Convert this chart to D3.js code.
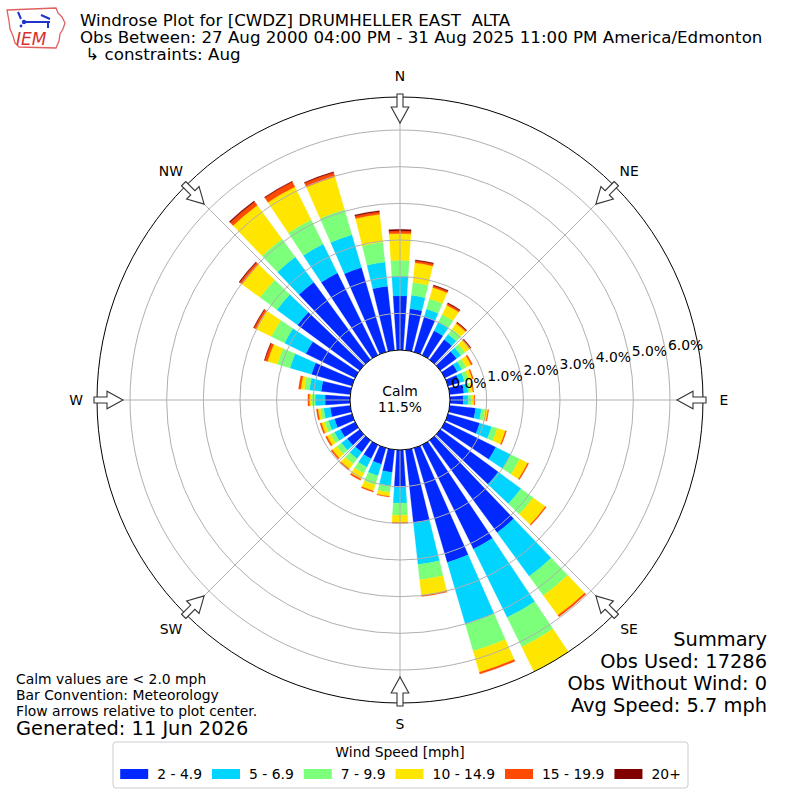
<!DOCTYPE html>
<html><head><meta charset="utf-8">
<script src="https://cdn.jsdelivr.net/npm/d3@7"></script>
<style>
body{margin:0;background:#fff}
svg{display:block}
text{font-family:"DejaVu Sans",sans-serif;fill:#000}
</style>
</head><body>
<svg id="c" width="800" height="800"></svg>
<script>
// ---------------- DATA ----------------
const directions = [0,10,20,30,40,50,60,70,80,90,100,110,120,130,140,150,160,170,
                    180,190,200,210,220,230,240,250,260,270,280,290,300,310,320,330,340,350];
const speedBins = ["2 - 4.9","5 - 6.9","7 - 9.9","10 - 14.9","15 - 19.9","20+"];
// percent of observations per direction, per speed bin
const s2to5   = [1.48,1.14,1.00,0.74,0.68,0.55,0.38,0.32,0.39,0.36,0.71,0.90,1.55,1.96,3.12,3.17,3.25,2.01,
                 1.02,0.62,0.46,0.42,0.40,0.42,0.45,0.50,0.55,0.68,0.80,1.15,1.50,2.10,2.62,2.50,2.40,1.76];
const s5to7   = [0.54,0.37,0.22,0.26,0.18,0.15,0.14,0.15,0.12,0.14,0.16,0.34,0.45,0.77,1.48,2.08,1.75,1.14,
                 0.43,0.37,0.33,0.26,0.22,0.20,0.18,0.17,0.18,0.27,0.32,0.61,0.65,0.70,0.85,0.88,0.93,0.66];
const s7to10  = [0.43,0.35,0.29,0.24,0.18,0.14,0.13,0.12,0.06,0.09,0.10,0.16,0.28,0.41,0.65,0.90,0.77,0.42,
                 0.33,0.18,0.26,0.19,0.18,0.16,0.12,0.11,0.09,0.09,0.14,0.36,0.40,0.57,0.61,0.74,0.72,0.55];
const s10to15 = [0.73,0.54,0.32,0.28,0.18,0.15,0.15,0.10,0.07,0.07,0.08,0.23,0.24,0.41,0.67,0.85,0.60,0.43,
                 0.20,0.11,0.17,0.17,0.17,0.15,0.11,0.09,0.07,0.07,0.10,0.28,0.47,0.61,1.14,1.00,0.93,0.76];
const s15to20 = [0.07,0.06,0.05,0.05,0.04,0.04,0.04,0.03,0.02,0.02,0.02,0.03,0.03,0.03,0.05,0.05,0.05,0.03,
                 0.02,0.02,0.03,0.04,0.04,0.04,0.04,0.04,0.04,0.04,0.06,0.08,0.06,0.08,0.12,0.15,0.12,0.07];
const s20plus = [0.04,0.02,0.02,0.02,0.01,0.01,0.00,0.00,0.00,0.00,0.00,0.00,0.00,0.00,0.00,0.00,0.00,0.00,
                 0.00,0.00,0.00,0.00,0.00,0.00,0.00,0.00,0.00,0.00,0.00,0.01,0.01,0.02,0.03,0.02,0.02,0.03];
const binColors = ["#0028ff","#00d4ff","#7cff7a","#ffe600","#ff4a00","#800000"];
const calmPct = 11.5;
const radialTicks = [0,1,2,3,4,5,6];
const radialTickLabels = ["0.0%","1.0%","2.0%","3.0%","4.0%","5.0%","6.0%"];
const compassDirs = [0,45,90,135,180,225,270,315];
const compassLabels = ["N","NE","E","SE","S","SW","W","NW"];
const titleLines = ["Windrose Plot for [CWDZ] DRUMHELLER EAST  ALTA",
                    "Obs Between: 27 Aug 2000 04:00 PM - 31 Aug 2025 11:00 PM America/Edmonton",
                    " \u21B3 constraints: Aug"];
const summaryLines = ["Summary","Obs Used: 17286","Obs Without Wind: 0","Avg Speed: 5.7 mph"];
const noteLines = ["Calm values are < 2.0 mph","Bar Convention: Meteorology","Flow arrows relative to plot center."];
const generatedLine = "Generated: 11 Jun 2026";
const legendTitle = "Wind Speed [mph]";

// ---------------- CHART ----------------
const svg = d3.select("#c");
const cx = 400, cy = 400;
const rMax = 6.9;
const rScale = d3.scaleLinear().domain([0, rMax]).range([50, 303]);
const deg = Math.PI / 180;
const halfW = 3.75;

const seriesArrays = [s2to5, s5to7, s7to10, s10to15, s15to20, s20plus];
const table = directions.map((d, i) => {
  const o = {dir: d};
  speedBins.forEach((k, j) => o[k] = seriesArrays[j][i]);
  return o;
});
const stacked = d3.stack().keys(speedBins)(table);

svg.append("defs").append("clipPath").attr("id","clipR")
  .append("circle").attr("cx",0).attr("cy",0).attr("r", rScale(rMax));

const g = svg.append("g").attr("transform", `translate(${cx},${cy})`);
const arc = d3.arc();

g.append("g").attr("clip-path","url(#clipR)")
  .selectAll("g.layer").data(stacked).join("g")
  .attr("fill", (d, i) => binColors[i]).attr("stroke", (d, i) => binColors[i]).attr("stroke-width", 0.3)
  .selectAll("path").data(d => d.filter(p => p[1] - p[0] > 0)).join("path")
  .attr("d", d => arc({
    innerRadius: rScale(d[0]), outerRadius: rScale(d[1]),
    startAngle: (d.data.dir - halfW) * deg, endAngle: (d.data.dir + halfW) * deg
  }));

// grid (drawn above bars like matplotlib)
g.append("g").selectAll("circle").data(radialTicks.filter(t => t > 0)).join("circle")
  .attr("r", d => rScale(d)).attr("fill","none").attr("stroke","#b0b0b0").attr("stroke-width",1);
g.append("g").selectAll("line").data(compassDirs).join("line")
  .attr("x1", d => rScale(0) * Math.sin(d*deg)).attr("y1", d => -rScale(0) * Math.cos(d*deg))
  .attr("x2", d => rScale(rMax) * Math.sin(d*deg)).attr("y2", d => -rScale(rMax) * Math.cos(d*deg))
  .attr("stroke","#b0b0b0").attr("stroke-width",1);

// outer spine
g.append("circle").attr("r", rScale(rMax)).attr("fill","none").attr("stroke","#000").attr("stroke-width",1);
// calm circle
g.append("circle").attr("r", rScale(0)).attr("fill","#fff").attr("stroke","#000").attr("stroke-width",1);
g.append("text").attr("text-anchor","middle").attr("y",-4).attr("font-size","13.9px").text("Calm");
g.append("text").attr("text-anchor","middle").attr("y",12).attr("font-size","13.9px").text(calmPct.toFixed(1) + "%");

// radial labels
const labAng = 80 * deg;
g.append("g").selectAll("text").data(radialTicks).join("text")
  .attr("x", d => rScale(d) * Math.sin(labAng) + 2)
  .attr("y", d => -rScale(d) * Math.cos(labAng) - 3.5)
  .attr("font-size","13.9px")
  .text((d, i) => radialTickLabels[i]);

// flow arrows
function arrowPath(th) {
  const t = th * deg, s = Math.sin(t), c = Math.cos(t);
  const pt = (rho, w) => [rho * s + w * c, -rho * c + w * s];
  const r0 = 306, r1 = 293, r2 = 277, hw = 3, hh = 8.8;
  const pts = [pt(r0,-hw), pt(r1,-hw), pt(r1,-hh), pt(r2,0), pt(r1,hh), pt(r1,hw), pt(r0,hw)];
  return "M" + pts.map(p => p[0].toFixed(2) + "," + p[1].toFixed(2)).join("L") + "Z";
}
g.append("g").selectAll("path").data(compassDirs).join("path")
  .attr("d", d => arrowPath(d)).attr("fill","#fff").attr("stroke","#333").attr("stroke-width",1.1);

// compass labels
g.append("g").selectAll("text").data(compassDirs).join("text")
  .attr("x", d => 324 * Math.sin(d*deg)).attr("y", d => -324 * Math.cos(d*deg) + 5)
  .attr("text-anchor","middle").attr("font-size","13.9px")
  .text((d, i) => compassLabels[i]);

// titles
svg.append("g").selectAll("text").data(titleLines).join("text")
  .attr("x", 80).attr("y", (d, i) => 26 + i * 17).attr("font-size","16.67px")
  .attr("xml:space","preserve").style("white-space","pre").text(d => d);

// summary
svg.append("g").selectAll("text").data(summaryLines).join("text")
  .attr("x", 767).attr("y", (d, i) => 646 + i * 22).attr("text-anchor","end")
  .attr("font-size","19.4px").text(d => d);

// notes
svg.append("g").selectAll("text").data(noteLines).join("text")
  .attr("x", 16).attr("y", (d, i) => 684 + i * 16).attr("font-size","13.9px").text(d => d);
svg.append("text").attr("x",16).attr("y",735).attr("font-size","19.4px").text(generatedLine);

// legend
const leg = svg.append("g");
leg.append("rect").attr("x",113).attr("y",742).attr("width",575).attr("height",46).attr("rx",3)
  .attr("fill","#fff").attr("stroke","#cccccc").attr("stroke-width",1);
leg.append("text").attr("x",400).attr("y",757).attr("text-anchor","middle").attr("font-size","13.9px").text(legendTitle);
const items = leg.append("g");
let xpos = 0;
speedBins.forEach((lab, i) => {
  items.append("rect").attr("x", xpos).attr("y", 769).attr("width", 28).attr("height", 10).attr("fill", binColors[i]);
  const t = items.append("text").attr("x", xpos + 37).attr("y", 779).attr("font-size","13.9px").text(lab);
  xpos = xpos + 37 + t.node().getComputedTextLength() + 10;
});
const totalW = xpos - 10;
items.attr("transform", `translate(${(400.5 - totalW/2).toFixed(1)},0)`);

// IEM logo (simplified)
const logo = svg.append("g");
logo.append("path")
  .attr("d","M7,10 L56,8 L58,13 L62,17 L65,23 L63,29 L60,34 L59,41 L56,48 L19,47 L15,43 L13,36 L10,29 L9,21 Z")
  .attr("fill","none").attr("stroke","#e06060").attr("stroke-width",1.3);
logo.append("path").attr("d","M24,22 L50,22 M41,15 L50,19 M18,12 L21,19 M48,23 L48,28")
  .attr("stroke","#2233cc").attr("stroke-width",2).attr("fill","none");
logo.append("circle").attr("cx",24).attr("cy",22).attr("r",2.2).attr("fill","#2233cc");
logo.append("circle").attr("cx",21).attr("cy",26).attr("r",1.4).attr("fill","#2233cc");
logo.append("text").attr("x",16).attr("y",45).attr("font-family","'Liberation Serif','DejaVu Serif',serif")
  .attr("font-style","italic").attr("font-size","17px").style("fill","#d83030").text("IEM");
</script>
</body></html>
